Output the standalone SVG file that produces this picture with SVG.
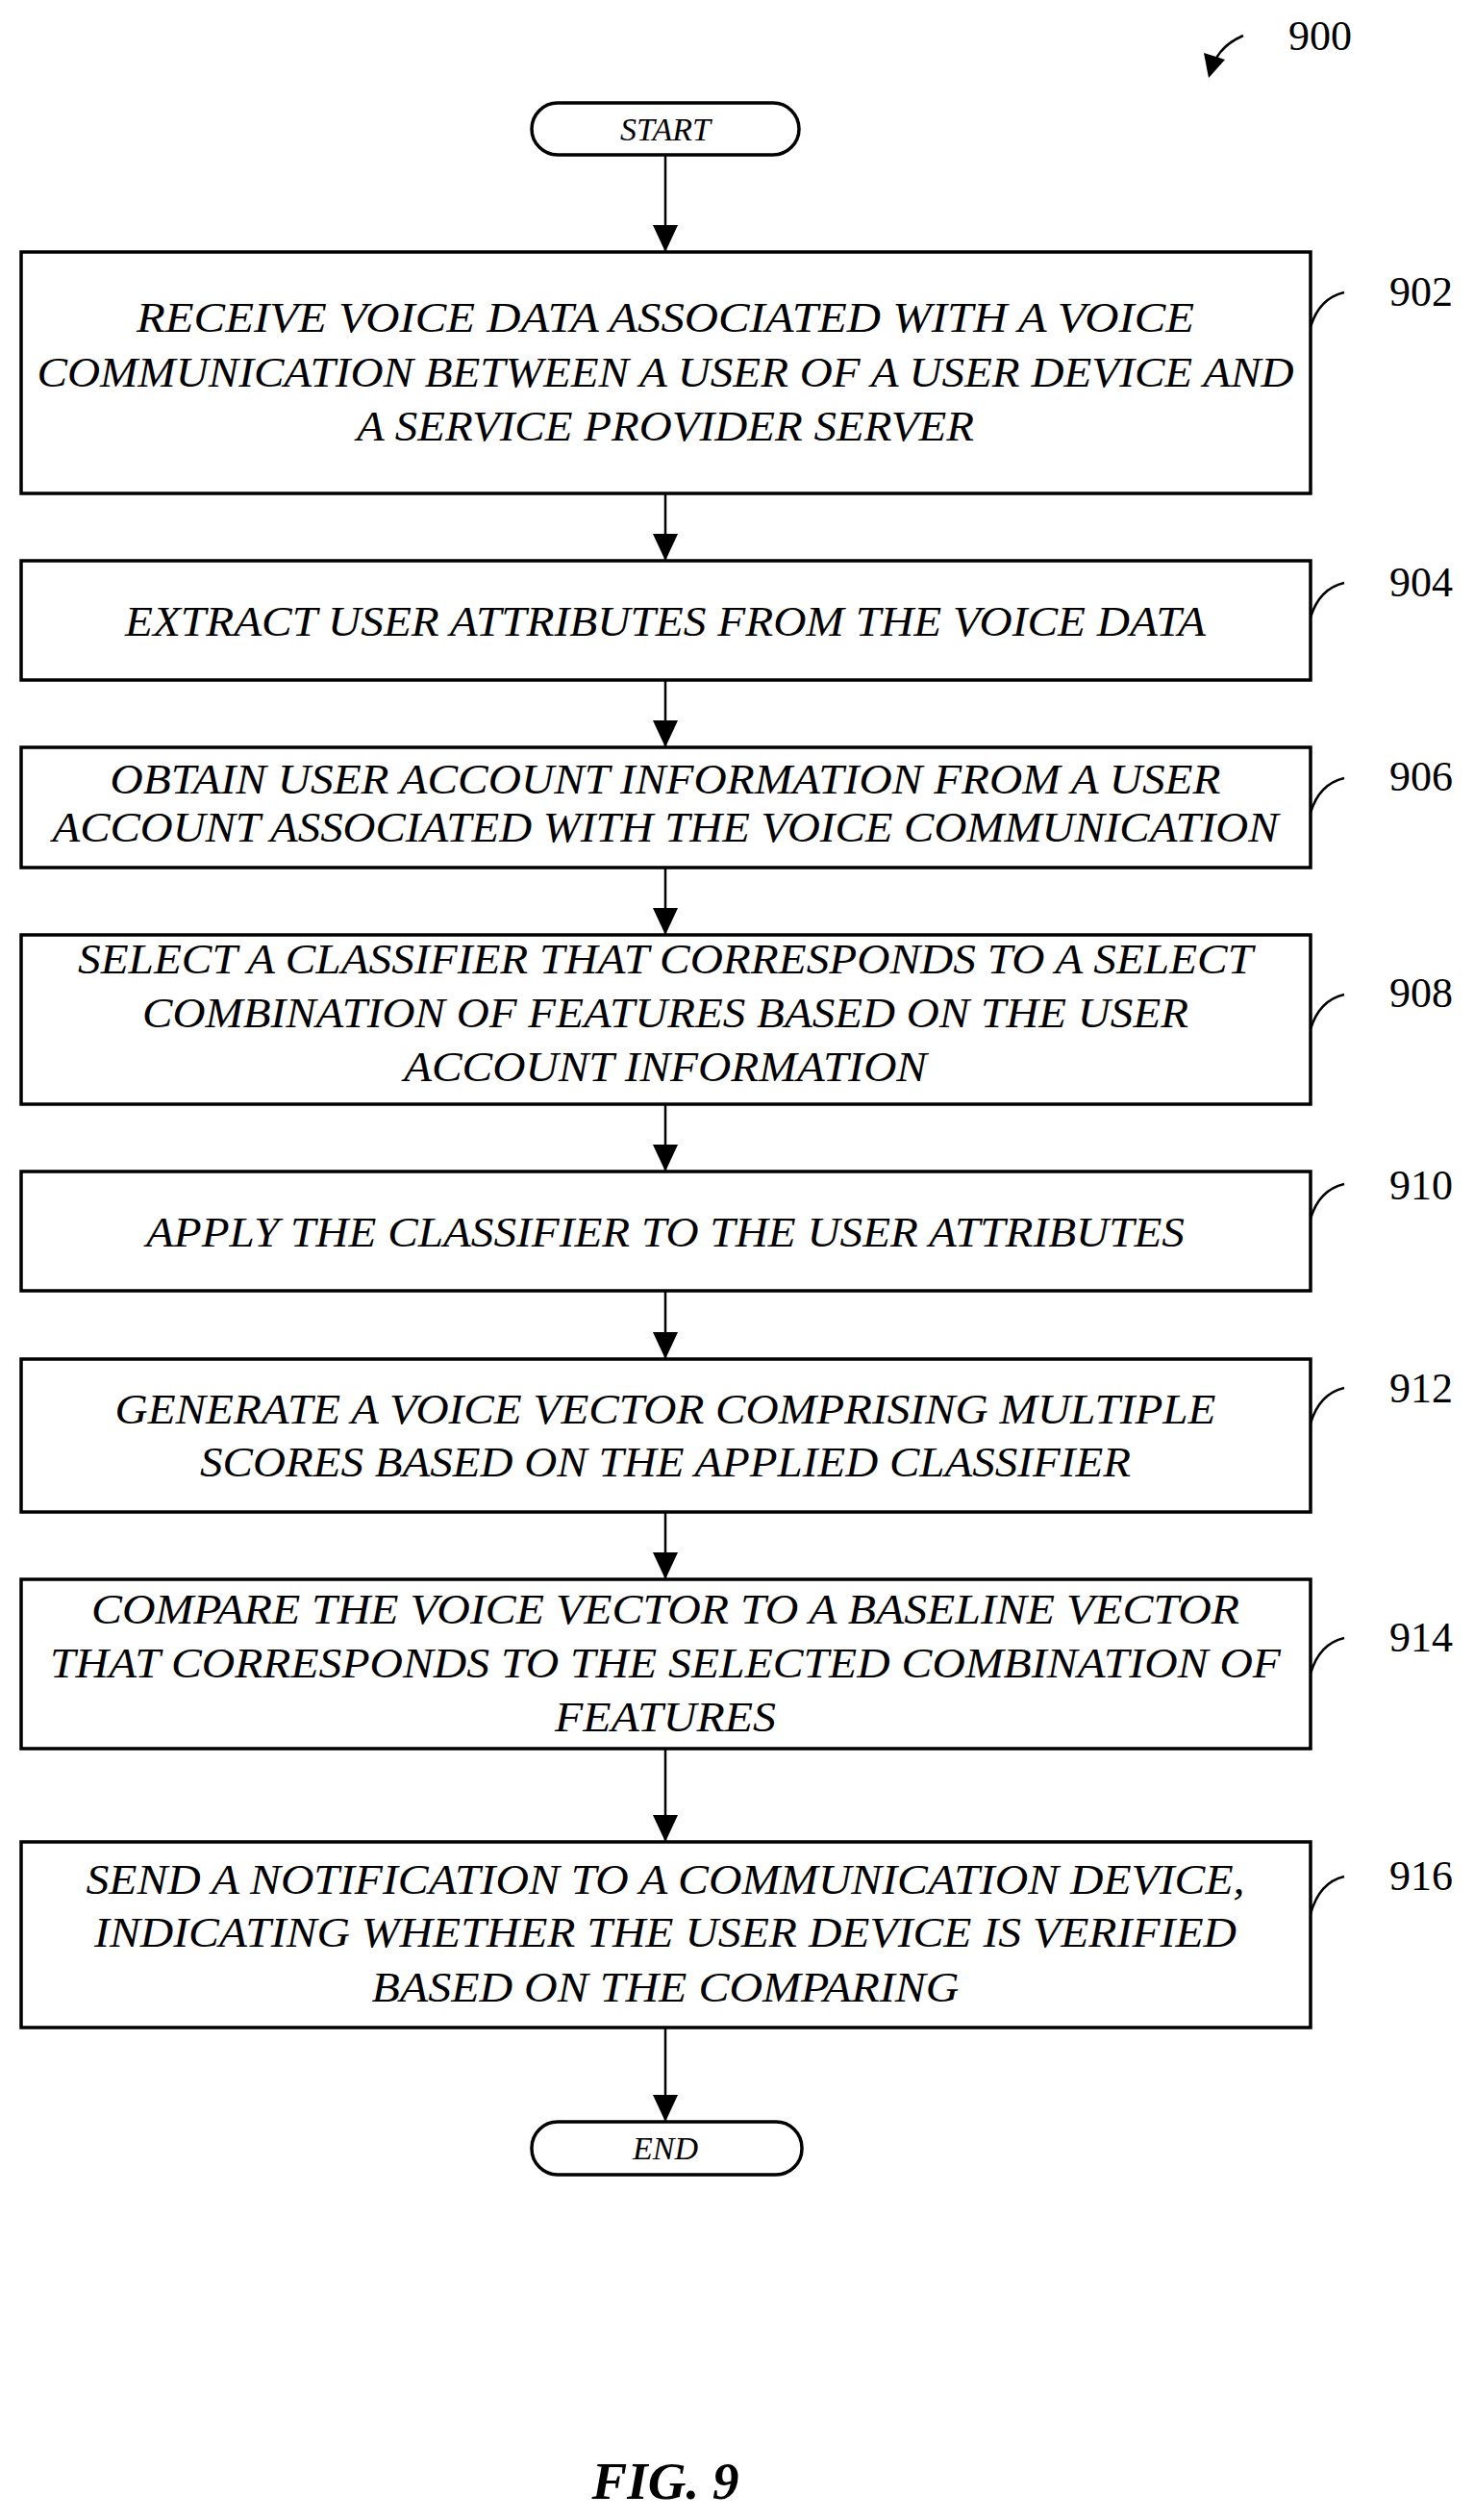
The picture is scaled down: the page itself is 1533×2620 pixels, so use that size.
<svg xmlns="http://www.w3.org/2000/svg" width="1533" height="2620" viewBox="0 0 1533 2620">
<style>
.box{fill:#fff;stroke:#000;stroke-width:3.5}
.t{font-family:"Liberation Serif","Times New Roman",serif;font-style:italic;font-size:45px;text-anchor:middle;fill:#000}
.s{font-family:"Liberation Serif","Times New Roman",serif;font-style:italic;font-size:34px;text-anchor:middle;fill:#000}
.n{font-family:"Liberation Serif","Times New Roman",serif;font-size:44px;fill:#000}
.c{stroke:#000;stroke-width:2.5;fill:none}
.l{stroke:#000;stroke-width:2.5;fill:none}
</style>
<defs>
<marker id="ah" markerUnits="userSpaceOnUse" markerWidth="26" markerHeight="28" refX="13" refY="27" orient="auto-start-reverse" viewBox="0 0 26 28">
<path d="M0,0 L26,0 L13,28 Z" fill="#000" transform="rotate(-90 13 14)"/>
</marker>
<marker id="ad" markerUnits="userSpaceOnUse" markerWidth="26" markerHeight="28" refX="13" refY="28" orient="0" viewBox="0 0 26 28">
<path d="M0,0 L26,0 L13,28 Z" fill="#000"/>
</marker>
</defs>
<g id="ref900">
<text class="n" x="1340" y="52">900</text>
<path d="M1293,37 Q1268,48 1262,68" class="l"/>
<path d="M1252,55 L1274,62 L1257,81 Z" fill="#000"/>
</g>
<g id="connectors">
<line class="c" x1="692" y1="161" x2="692" y2="262" marker-end="url(#ad)"/>
<line class="c" x1="692" y1="513" x2="692" y2="583" marker-end="url(#ad)"/>
<line class="c" x1="692" y1="707" x2="692" y2="777" marker-end="url(#ad)"/>
<line class="c" x1="692" y1="902" x2="692" y2="972" marker-end="url(#ad)"/>
<line class="c" x1="692" y1="1148" x2="692" y2="1218" marker-end="url(#ad)"/>
<line class="c" x1="692" y1="1342" x2="692" y2="1413" marker-end="url(#ad)"/>
<line class="c" x1="692" y1="1572" x2="692" y2="1642" marker-end="url(#ad)"/>
<line class="c" x1="692" y1="1818" x2="692" y2="1915" marker-end="url(#ad)"/>
<line class="c" x1="692" y1="2108" x2="692" y2="2206" marker-end="url(#ad)"/>
</g>
<g id="start">
<rect class="box" x="553" y="107" width="278" height="54" rx="27" stroke-width="3"/>
<text class="s" x="692" y="146">START</text>
</g>
<g id="n902">
<rect class="box" x="22" y="262" width="1341" height="251"/>
<text class="t" x="692" y="345" textLength="1100" lengthAdjust="spacingAndGlyphs">RECEIVE VOICE DATA ASSOCIATED WITH A VOICE</text>
<text class="t" x="692" y="402" textLength="1307" lengthAdjust="spacingAndGlyphs">COMMUNICATION BETWEEN A USER OF A USER DEVICE AND</text>
<text class="t" x="692" y="458" textLength="642" lengthAdjust="spacingAndGlyphs">A SERVICE PROVIDER SERVER</text>
<path class="l" d="M1363,340 Q1372,310 1398,304"/>
<text class="n" x="1445" y="318">902</text>
</g>
<g id="n904">
<rect class="box" x="22" y="583" width="1341" height="124"/>
<text class="t" x="692" y="661" textLength="1124" lengthAdjust="spacingAndGlyphs">EXTRACT USER ATTRIBUTES FROM THE VOICE DATA</text>
<path class="l" d="M1363,642 Q1372,612 1398,606"/>
<text class="n" x="1445" y="620">904</text>
</g>
<g id="n906">
<rect class="box" x="22" y="777" width="1341" height="125"/>
<text class="t" x="692" y="825" textLength="1155" lengthAdjust="spacingAndGlyphs">OBTAIN USER ACCOUNT INFORMATION FROM A USER</text>
<text class="t" x="692" y="875" textLength="1275" lengthAdjust="spacingAndGlyphs">ACCOUNT ASSOCIATED WITH THE VOICE COMMUNICATION</text>
<path class="l" d="M1363,845 Q1372,815 1398,809"/>
<text class="n" x="1445" y="822">906</text>
</g>
<g id="n908">
<rect class="box" x="22" y="972" width="1341" height="176"/>
<text class="t" x="692" y="1012" textLength="1222" lengthAdjust="spacingAndGlyphs">SELECT A CLASSIFIER THAT CORRESPONDS TO A SELECT</text>
<text class="t" x="692" y="1068" textLength="1088" lengthAdjust="spacingAndGlyphs">COMBINATION OF FEATURES BASED ON THE USER</text>
<text class="t" x="692" y="1124" textLength="544" lengthAdjust="spacingAndGlyphs">ACCOUNT INFORMATION</text>
<path class="l" d="M1363,1070 Q1372,1040 1398,1034"/>
<text class="n" x="1445" y="1047">908</text>
</g>
<g id="n910">
<rect class="box" x="22" y="1218" width="1341" height="124"/>
<text class="t" x="692" y="1296" textLength="1080" lengthAdjust="spacingAndGlyphs">APPLY THE CLASSIFIER TO THE USER ATTRIBUTES</text>
<path class="l" d="M1363,1267 Q1372,1237 1398,1231"/>
<text class="n" x="1445" y="1247">910</text>
</g>
<g id="n912">
<rect class="box" x="22" y="1413" width="1341" height="159"/>
<text class="t" x="692" y="1480" textLength="1145" lengthAdjust="spacingAndGlyphs">GENERATE A VOICE VECTOR COMPRISING MULTIPLE</text>
<text class="t" x="692" y="1535" textLength="968" lengthAdjust="spacingAndGlyphs">SCORES BASED ON THE APPLIED CLASSIFIER</text>
<path class="l" d="M1363,1480 Q1372,1449 1398,1443"/>
<text class="n" x="1445" y="1458">912</text>
</g>
<g id="n914">
<rect class="box" x="22" y="1642" width="1341" height="176"/>
<text class="t" x="692" y="1688" textLength="1194" lengthAdjust="spacingAndGlyphs">COMPARE THE VOICE VECTOR TO A BASELINE VECTOR</text>
<text class="t" x="692" y="1744" textLength="1280" lengthAdjust="spacingAndGlyphs">THAT CORRESPONDS TO THE SELECTED COMBINATION OF</text>
<text class="t" x="692" y="1800" textLength="230" lengthAdjust="spacingAndGlyphs">FEATURES</text>
<path class="l" d="M1363,1740 Q1372,1709 1398,1703"/>
<text class="n" x="1445" y="1717">914</text>
</g>
<g id="n916">
<rect class="box" x="22" y="1915" width="1341" height="193"/>
<text class="t" x="692" y="1969" textLength="1205" lengthAdjust="spacingAndGlyphs">SEND A NOTIFICATION TO A COMMUNICATION DEVICE,</text>
<text class="t" x="692" y="2024" textLength="1188" lengthAdjust="spacingAndGlyphs">INDICATING WHETHER THE USER DEVICE IS VERIFIED</text>
<text class="t" x="692" y="2081" textLength="611" lengthAdjust="spacingAndGlyphs">BASED ON THE COMPARING</text>
<path class="l" d="M1363,1990 Q1372,1957 1398,1951"/>
<text class="n" x="1445" y="1965">916</text>
</g>
<g id="end">
<rect class="box" x="553" y="2206" width="281" height="55" rx="27" stroke-width="3"/>
<text class="s" x="692" y="2245">END</text>
</g>
<text x="692" y="2598" font-family="Liberation Serif, Times New Roman, serif" font-style="italic" font-weight="bold" font-size="55" text-anchor="middle">FIG. 9</text>
</svg>
